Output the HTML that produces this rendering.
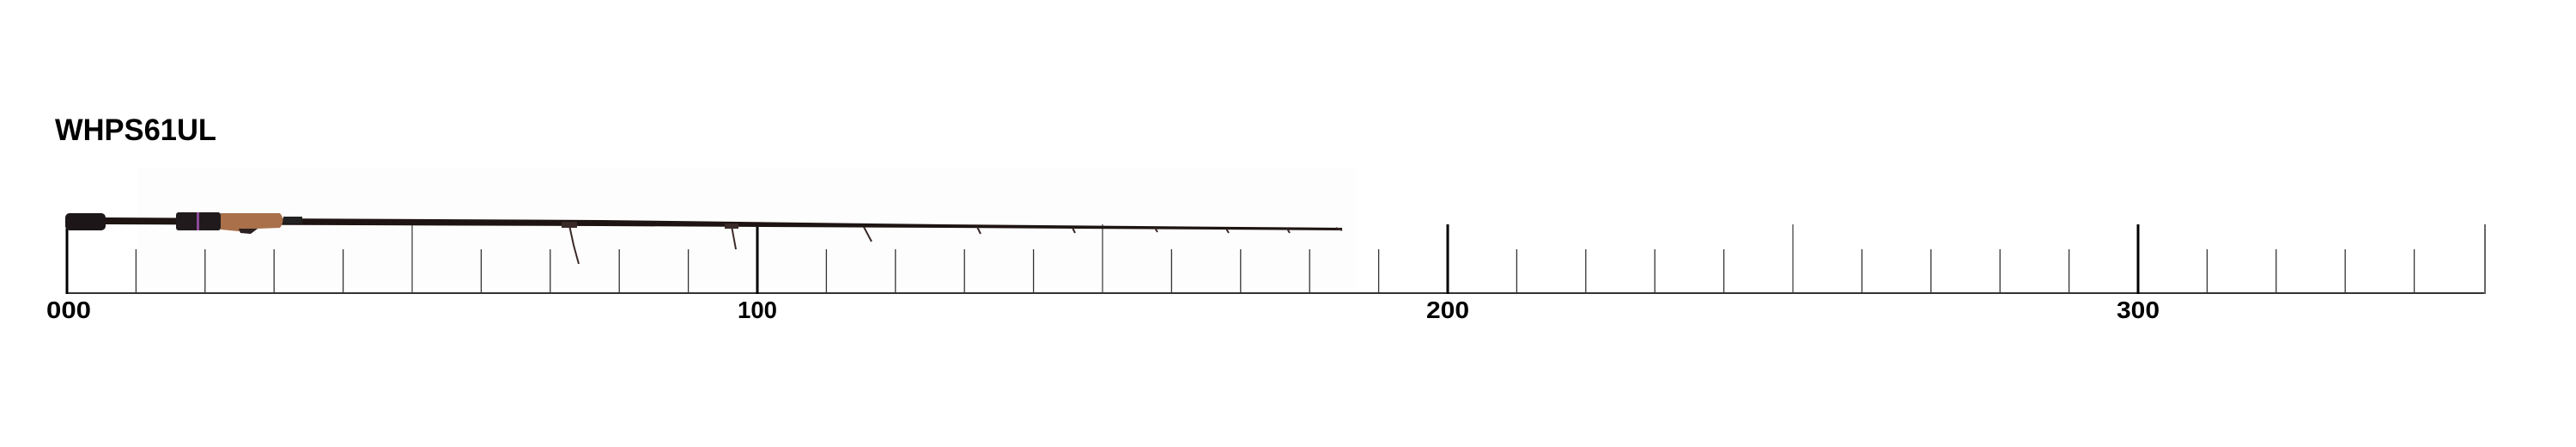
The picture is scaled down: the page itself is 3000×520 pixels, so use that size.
<!DOCTYPE html>
<html><head><meta charset="utf-8"><style>
html,body{margin:0;padding:0;background:#fff;}
svg{display:block}
text{font-family:"Liberation Sans",sans-serif;font-weight:bold;fill:#000}
</style></head><body>
<svg width="3000" height="520" viewBox="0 0 3000 520" xmlns="http://www.w3.org/2000/svg">
<rect width="3000" height="520" fill="#fff"/>
<rect x="160" y="195" width="1420" height="140" fill="#fdfdfd"/>
<text x="64" y="163" font-size="35" textLength="188" lengthAdjust="spacingAndGlyphs">WHPS61UL</text>
<g id="ruler">
<line x1="78" y1="341" x2="2894" y2="341" stroke="#333" stroke-width="2"/>
<line x1="78" y1="266" x2="78" y2="342" stroke="#000" stroke-width="3"/>
<line x1="882" y1="261" x2="882" y2="342" stroke="#000" stroke-width="3"/>
<line x1="1686" y1="261" x2="1686" y2="342" stroke="#000" stroke-width="3"/>
<line x1="2490" y1="261" x2="2490" y2="342" stroke="#000" stroke-width="3"/>
<line x1="2894" y1="261" x2="2894" y2="342" stroke="#666" stroke-width="2"/>
<line x1="480" y1="261" x2="480" y2="341" stroke="#444" stroke-width="1.3"/>
<line x1="1284" y1="261" x2="1284" y2="341" stroke="#444" stroke-width="1.3"/>
<line x1="2088" y1="261" x2="2088" y2="341" stroke="#444" stroke-width="1.3"/>
</g>
<g stroke="#333" stroke-width="1.3">
<line x1="158.4" y1="290" x2="158.4" y2="341"/><line x1="238.8" y1="290" x2="238.8" y2="341"/><line x1="319.2" y1="290" x2="319.2" y2="341"/><line x1="399.6" y1="290" x2="399.6" y2="341"/>
<line x1="560.4" y1="290" x2="560.4" y2="341"/><line x1="640.8" y1="290" x2="640.8" y2="341"/><line x1="721.2" y1="290" x2="721.2" y2="341"/><line x1="801.6" y1="290" x2="801.6" y2="341"/>
<line x1="962.4" y1="290" x2="962.4" y2="341"/><line x1="1042.8" y1="290" x2="1042.8" y2="341"/><line x1="1123.2" y1="290" x2="1123.2" y2="341"/><line x1="1203.6" y1="290" x2="1203.6" y2="341"/>
<line x1="1364.4" y1="290" x2="1364.4" y2="341"/><line x1="1444.8" y1="290" x2="1444.8" y2="341"/><line x1="1525.2" y1="290" x2="1525.2" y2="341"/><line x1="1605.6" y1="290" x2="1605.6" y2="341"/>
<line x1="1766.4" y1="290" x2="1766.4" y2="341"/><line x1="1846.8" y1="290" x2="1846.8" y2="341"/><line x1="1927.2" y1="290" x2="1927.2" y2="341"/><line x1="2007.6" y1="290" x2="2007.6" y2="341"/>
<line x1="2168.4" y1="290" x2="2168.4" y2="341"/><line x1="2248.8" y1="290" x2="2248.8" y2="341"/><line x1="2329.2" y1="290" x2="2329.2" y2="341"/><line x1="2409.6" y1="290" x2="2409.6" y2="341"/>
<line x1="2570.4" y1="290" x2="2570.4" y2="341"/><line x1="2650.8" y1="290" x2="2650.8" y2="341"/><line x1="2731.2" y1="290" x2="2731.2" y2="341"/><line x1="2811.6" y1="290" x2="2811.6" y2="341"/>
</g>
<g font-size="28" text-anchor="middle">
<text x="80" y="370" textLength="52" lengthAdjust="spacingAndGlyphs">000</text>
<text x="882" y="370" textLength="46" lengthAdjust="spacingAndGlyphs">100</text>
<text x="1686" y="370" textLength="50" lengthAdjust="spacingAndGlyphs">200</text>
<text x="2490" y="370" textLength="50" lengthAdjust="spacingAndGlyphs">300</text>
</g>
<!-- rod -->
<polygon points="120,253 700,256 1100,261 1563,265 1563,268 1100,265 700,263 120,261" fill="#1e1412"/>
<rect x="76" y="248" width="47" height="20" rx="5" fill="#1c1618"/>
<rect x="205" y="247" width="52" height="21" rx="3" fill="#201a1c"/>
<rect x="229" y="247" width="3" height="21" fill="#8a4a9a"/>
<path d="M257 248 L326 248 Q333 256 326 265 L300 266 L290 272 L278 269 L257 267 Z" fill="#a9704a"/>
<path d="M278 266 L300 266 L292 272 L280 271 Z" fill="#2a2022"/>
<rect x="330" y="252" width="22" height="8" fill="#222"/>
<g stroke="#3a2a28" stroke-width="2" fill="none">
<path d="M663 262 L668 285 L674 307"/><rect x="655" y="259" width="16" height="5" fill="#3a2a28"/>
<path d="M852 263 L857 290"/><rect x="845" y="261" width="14" height="4" fill="#3a2a28"/>
<path d="M1006 264 L1015 281"/>
<path d="M1138 264 L1142 272"/>
<path d="M1249 265 L1252 271"/>
<path d="M1345 265 L1348 270"/>
<path d="M1428 266 L1431 271"/>
<path d="M1499 266 L1502 271"/>
<path d="M1556 265 L1563 268"/>
</g>
</svg>
</body></html>
